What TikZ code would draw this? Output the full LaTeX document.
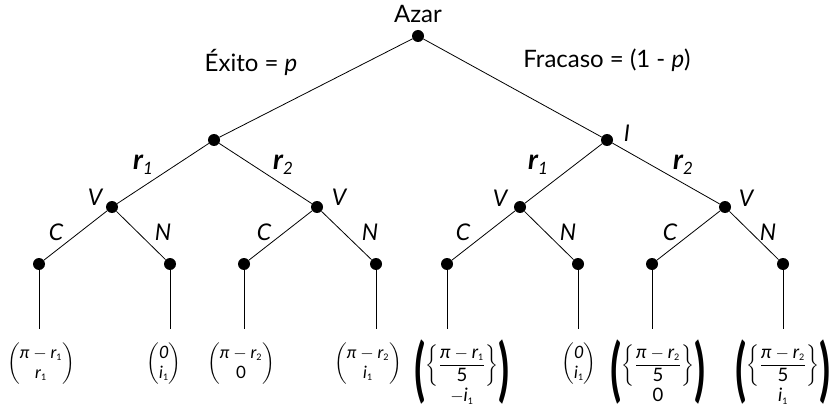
\documentclass[tikz,border=0pt]{standalone}
\usepackage{amsmath}
\usepackage{fontspec}
\setmainfont{Lato}
\usepackage{graphicx}
\newcommand{\vpi}{\mbox{\itshape π}}
\newcommand{\vr}[1]{\mbox{\itshape r}_{\mbox{\fontsize{9}{9}\selectfont #1}}}
\newcommand{\vi}[1]{\mbox{\itshape i}_{\mbox{\fontsize{9}{9}\selectfont #1}}}
\newcommand{\bigpl}{\raisebox{5pt}{$\vcenter{\hbox{\scalebox{2.2}[3.7]{\bfseries (}}}$}}
\newcommand{\bigpr}{\raisebox{5pt}{$\vcenter{\hbox{\scalebox{2.2}[3.7]{\bfseries )}}}$}}
\newcommand{\rlab}[1]{{\fontsize{28}{30}\selectfont\bfseries\itshape r}{\fontsize{17}{17}\selectfont\itshape\raisebox{-5pt}{#1}}}
\tikzset{
  dot/.style={circle,fill=black,inner sep=0pt,minimum size=12pt},
  lbl/.style={font=\fontsize{24}{28}\selectfont,inner sep=0pt},
  ilbl/.style={font=\fontsize{23}{27}\selectfont\itshape,inner sep=0pt},
  pay/.style={font=\fontsize{17}{20}\selectfont,inner sep=0pt},
  bigpay/.style={font=\fontsize{18.5}{22}\selectfont,inner sep=0pt},
  edge/.style={draw=black,line width=0.8pt}
}
\begin{document}
\begin{tikzpicture}[x=1pt,y=-1pt]
\useasboundingbox (0,0) rectangle (838,409);
% nodes
\node[dot] (root) at (418,36) {};
\node[dot] (a) at (214,140) {};
\node[dot] (b) at (607,140) {};
\node[dot] (a1) at (112,207) {};
\node[dot] (a2) at (317,207) {};
\node[dot] (b1) at (520,207) {};
\node[dot] (b2) at (725,207) {};
\node[dot] (l1) at (39,264) {};
\node[dot] (l2) at (170,264) {};
\node[dot] (l3) at (244,264) {};
\node[dot] (l4) at (376,264) {};
\node[dot] (l5) at (447,264) {};
\node[dot] (l6) at (578,264) {};
\node[dot] (l7) at (652,264) {};
\node[dot] (l8) at (783,264) {};
\foreach \i/\x in {1/39,2/170,3/244,4/376,5/447,6/578,7/652,8/783}
  \coordinate (e\i) at (\x,329);
% edges
\draw[edge] (root) -- (a);
\draw[edge] (root) -- (b);
\draw[edge] (a) -- (a1);
\draw[edge] (a) -- (a2);
\draw[edge] (b) -- (b1);
\draw[edge] (b) -- (b2);
\draw[edge] (a1) -- (l1);
\draw[edge] (a1) -- (l2);
\draw[edge] (a2) -- (l3);
\draw[edge] (a2) -- (l4);
\draw[edge] (b1) -- (l5);
\draw[edge] (b1) -- (l6);
\draw[edge] (b2) -- (l7);
\draw[edge] (b2) -- (l8);
\foreach \i in {1,...,8} \draw[edge] (l\i) -- (e\i);
% labels
\node[lbl] (azar) at (418,14) {Azar};
\node[lbl] (exito) at (251,62) {Éxito = \textit{p}};
\node[lbl] (fracaso) at (607,60) {Fracaso = (1 - \textit{p})};
\node[ilbl] (ilab) at (627,133) {I};
\node[inner sep=0pt] (ra1) at (143,165) {\rlab{1}};
\node[inner sep=0pt] (ra2) at (283,165) {\rlab{2}};
\node[inner sep=0pt] (rb1) at (538,165) {\rlab{1}};
\node[inner sep=0pt] (rb2) at (683,165) {\rlab{2}};
\node[ilbl] (va1) at (95,197) {V};
\node[ilbl] (va2) at (339,197) {V};
\node[ilbl] (vb1) at (500,198) {V};
\node[ilbl] (vb2) at (746,198) {V};
\node[ilbl] (c1) at (56,232) {C};
\node[ilbl] (n1) at (163,232) {N};
\node[ilbl] (c2) at (264,232) {C};
\node[ilbl] (n2) at (370,232) {N};
\node[ilbl] (c3) at (463,232) {C};
\node[ilbl] (n3) at (568,232) {N};
\node[ilbl] (c4) at (670,232) {C};
\node[ilbl] (n4) at (768,232) {N};
% payoffs
\node[pay] (p1) at (41,364) {$\left(\begin{array}{@{}c@{}}\vpi - \vr{1}\\ \vr{1}\end{array}\right)$};
\node[pay] (p2) at (164,364) {$\left(\begin{array}{@{}c@{}}\mbox{\itshape 0}\\ \vi{1}\end{array}\right)$};
\node[pay] (p3) at (241,364) {$\left(\begin{array}{@{}c@{}}\vpi - \vr{2}\\ \mbox{0}\end{array}\right)$};
\node[pay] (p4) at (368,364) {$\left(\begin{array}{@{}c@{}}\vpi - \vr{2}\\ \vi{1}\end{array}\right)$};
\node[bigpay] (p5) at (462,374) {$\bigpl\begin{array}{@{}c@{}}\left\{\dfrac{\vpi - \vr{1}}{\mbox{5}}\right\}\\[0pt] -\vi{1}\end{array}\bigpr$};
\node[pay] (p6) at (579,364) {$\left(\begin{array}{@{}c@{}}\mbox{\itshape 0}\\ \vi{1}\end{array}\right)$};
\node[bigpay] (p7) at (658,374) {$\bigpl\begin{array}{@{}c@{}}\left\{\dfrac{\vpi - \vr{2}}{\mbox{5}}\right\}\\[0pt] \mbox{0}\end{array}\bigpr$};
\node[bigpay] (p8) at (783,374) {$\bigpl\begin{array}{@{}c@{}}\left\{\dfrac{\vpi - \vr{2}}{\mbox{5}}\right\}\\[0pt] \vi{1}\end{array}\bigpr$};
\end{tikzpicture}
\end{document}
